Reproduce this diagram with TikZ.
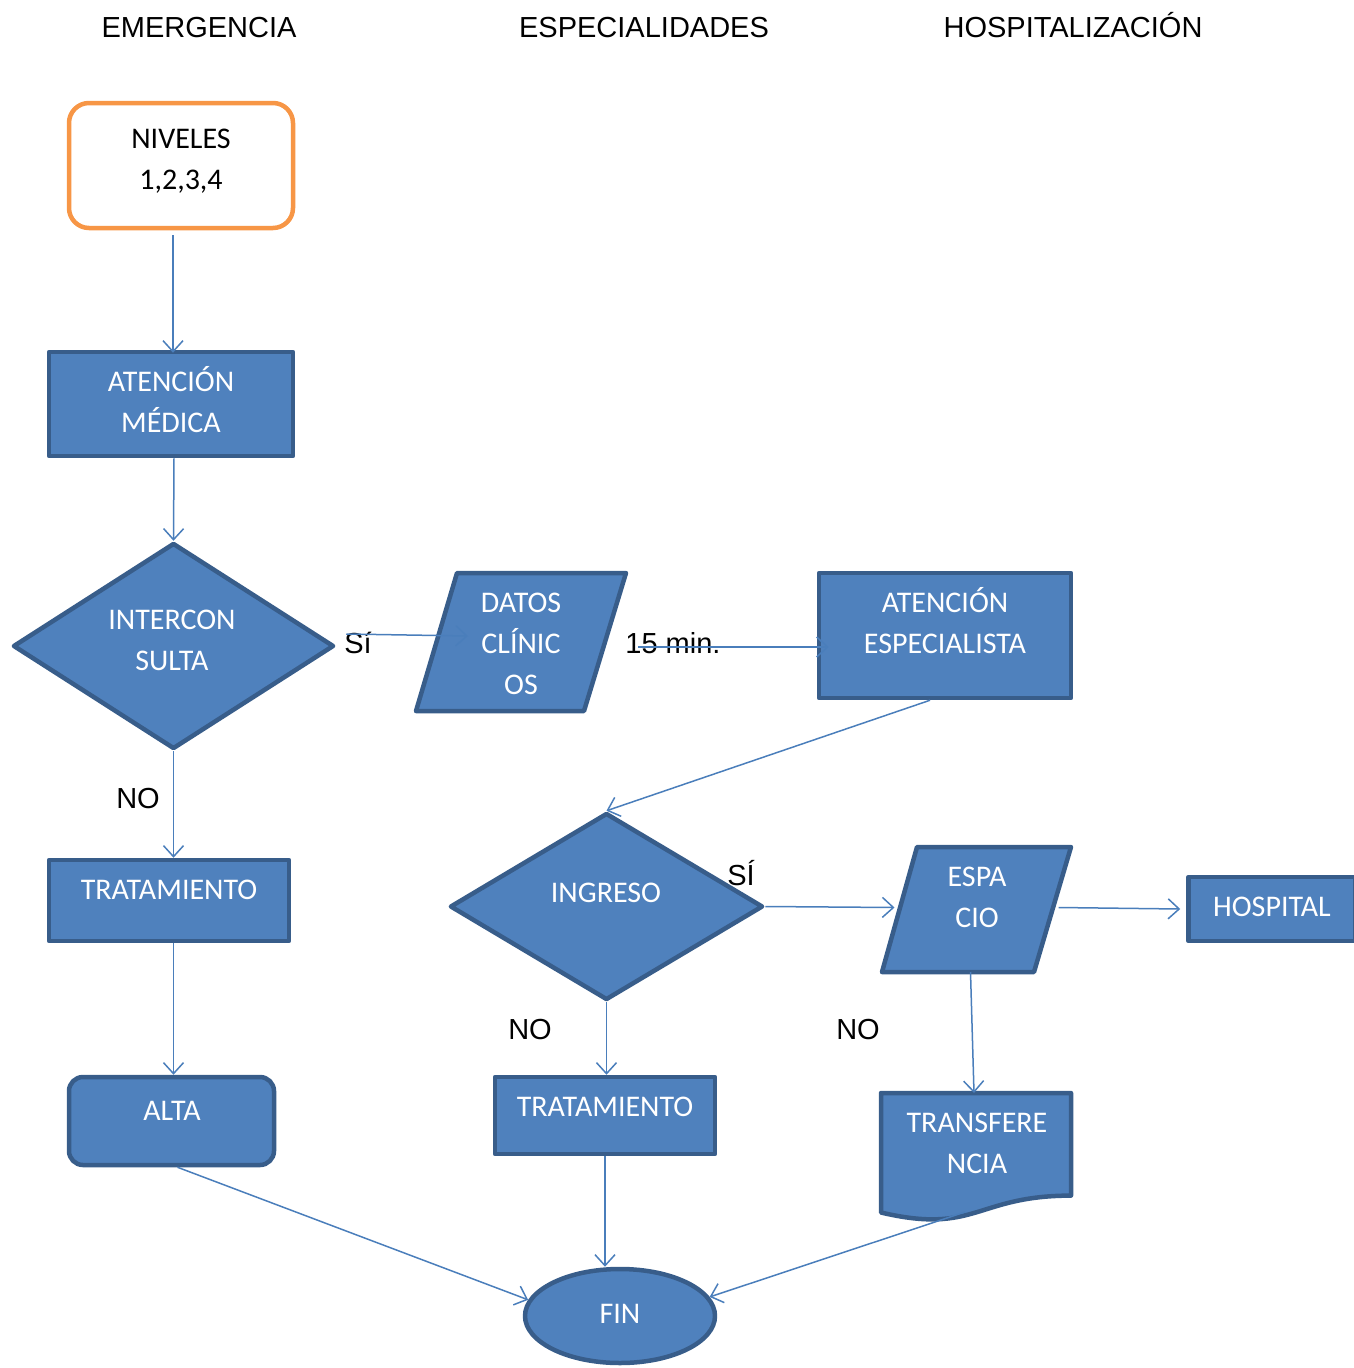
\documentclass[tikz,border=0pt]{standalone}
\usepackage{fontspec}
\setmainfont{Liberation Sans}
\newfontfamily\calfont{Carlito}
\usetikzlibrary{arrows.meta,shapes.geometric}
\definecolor{boxfill}{HTML}{4F81BD}
\definecolor{boxline}{HTML}{385D8A}
\definecolor{arrowc}{HTML}{4A7EBB}
\definecolor{orangec}{HTML}{F79646}
\begin{document}
\begin{tikzpicture}[x=1pt,y=-1pt,
  shapebox/.style={draw=boxline, fill=boxfill, line width=4.5pt, inner sep=0pt, line join=round},
  frame/.style={draw=none, inner sep=0pt, outer sep=0pt, rectangle},
  inner/.style={font=\calfont\fontsize{30}{41}\selectfont, text=white, align=center, inner sep=0pt, anchor=base},
  lbl/.style={font=\fontsize{29}{33}\selectfont, inner sep=0pt, anchor=base},
  arr/.style={draw=arrowc, line width=1.5pt, -{Straight Barb[length=11pt,width=20pt]}}]
\useasboundingbox (0,0) rectangle (1353,1368);

% column headings
\node[lbl] (h1) at (199,37) {EMERGENCIA};
\node[lbl] (h2) at (644,37) {ESPECIALIDADES};
\node[lbl] (h3) at (1073,37) {HOSPITALIZACIÓN};

% emergency column (text nodes sit on the baseline of their last line)
\node[rectangle, draw=orangec, fill=white, line width=4.5pt, rounded corners=20pt,
      minimum width=224, minimum height=125] (niv) at (181,165.5) {};
\node[inner, text=black] (nivt) at (181,189) {NIVELES\\1,2,3,4};

\node[shapebox, rectangle, minimum width=244, minimum height=104] (atm) at (171,404) {};
\node[inner] (atmt) at (171,432) {ATENCIÓN\\MÉDICA};

\node[shapebox, diamond, minimum width=321, minimum height=206] (ic) at (173.5,646) {};
\node[inner] (ict) at (172,670) {INTERCON\\SULTA};

\node[shapebox, rectangle, minimum width=240, minimum height=81] (tra1) at (169,900.5) {};
\node[inner] (tra1t) at (169,899) {TRATAMIENTO};

\node[shapebox, rectangle, rounded corners=14pt, minimum width=205, minimum height=88] (alta) at (171.5,1121) {};
\node[inner] (altat) at (172,1120) {ALTA};

% specialties column
\draw[shapebox] (457,573) -- (626,573) -- (584,711) -- (416,711) -- cycle;
\node[frame, minimum width=210, minimum height=138] (dat) at (521,642) {};
\node[inner] (datt) at (521,694) {DATOS\\CLÍNIC\\OS};

\node[shapebox, rectangle, minimum width=252, minimum height=125] (aes) at (945,635.5) {};
\node[inner] (aest) at (945,653) {ATENCIÓN\\ESPECIALISTA};

\node[shapebox, diamond, minimum width=313, minimum height=187] (ing) at (606.5,906.5) {};
\node[inner] (ingt) at (606,902) {INGRESO};

\node[shapebox, rectangle, minimum width=220, minimum height=77] (tra2) at (605,1115.5) {};
\node[inner] (tra2t) at (605,1116) {TRATAMIENTO};

\node[shapebox, ellipse, minimum width=190, minimum height=94] (fin) at (620,1316) {};
\node[inner] (fint) at (620,1323) {FIN};

% hospitalisation column
\draw[shapebox] (917,847) -- (1071,847) -- (1034,972) -- (882,972) -- cycle;
\node[frame, minimum width=189, minimum height=125] (esp) at (976.5,909.5) {};
\node[inner] (espt) at (977,927) {ESPA\\CIO};

\node[shapebox, rectangle, minimum width=167, minimum height=64] (hos) at (1272,909) {};
\node[inner] (host) at (1272,916) {HOSPITAL};

\draw[shapebox] (881,1093) -- (1071,1093) -- (1071,1195.6)
  .. controls (976,1195.6) and (976,1234.8) .. (881,1212.5) -- cycle;
\node[frame, minimum width=190, minimum height=128] (trf) at (976,1157) {};
\node[inner] (trft) at (977,1173) {TRANSFERE\\NCIA};

% branch labels
\node[lbl] (si1) at (358,653) {Sí};
\node[lbl] (min) at (673,653) {15 min.};
\node[lbl] (no1) at (138,808) {NO};
\node[lbl] (si2) at (741,885) {SÍ};
\node[lbl] (no2) at (530,1039) {NO};
\node[lbl] (no3) at (858,1039) {NO};

% connectors
\draw[arr] ([shift={(-8,5)}]niv.south) -- ([shift={(2,3)}]atm.north);
\draw[arr] ([shift={(3,0)}]atm.south) -- (ic.north);
\draw[arr] (ic.south) -- (ic.south |- tra1.north);
\draw[arr] (ic.south |- tra1.south) -- (ic.south |- alta.north);
\draw[arr] ([shift={(10,-12)}]ic.east) -- ([shift={(-53,-6)}]dat.center);
\draw[arr] ([shift={(12,5)}]dat.east) -- ([shift={(12,5)}]dat.east -| aes.west);
\draw[arr] ([shift={(-15,0)}]aes.south) -- (ing.north);
\draw[arr] (ing.east) -- ([shift={(-82,-2)}]esp.center);
\draw[arr] ([shift={(82,-2)}]esp.center) -- ([shift={(-6,0)}]hos.west);
\draw[arr] (ing.south) -- (ing.south |- tra2.north);
\draw[arr] ([shift={(-6,0)}]esp.south) -- ([shift={(-2,0)}]trf.north);
\draw[arr] ([shift={(6,0)}]alta.south) -- (fin.170);
\draw[arr] (tra2.south) -- (tra2.south |- fin.north);
\draw[arr] ([shift={(-11,55)}]trf.center) -- (fin.12);
\end{tikzpicture}
\end{document}
